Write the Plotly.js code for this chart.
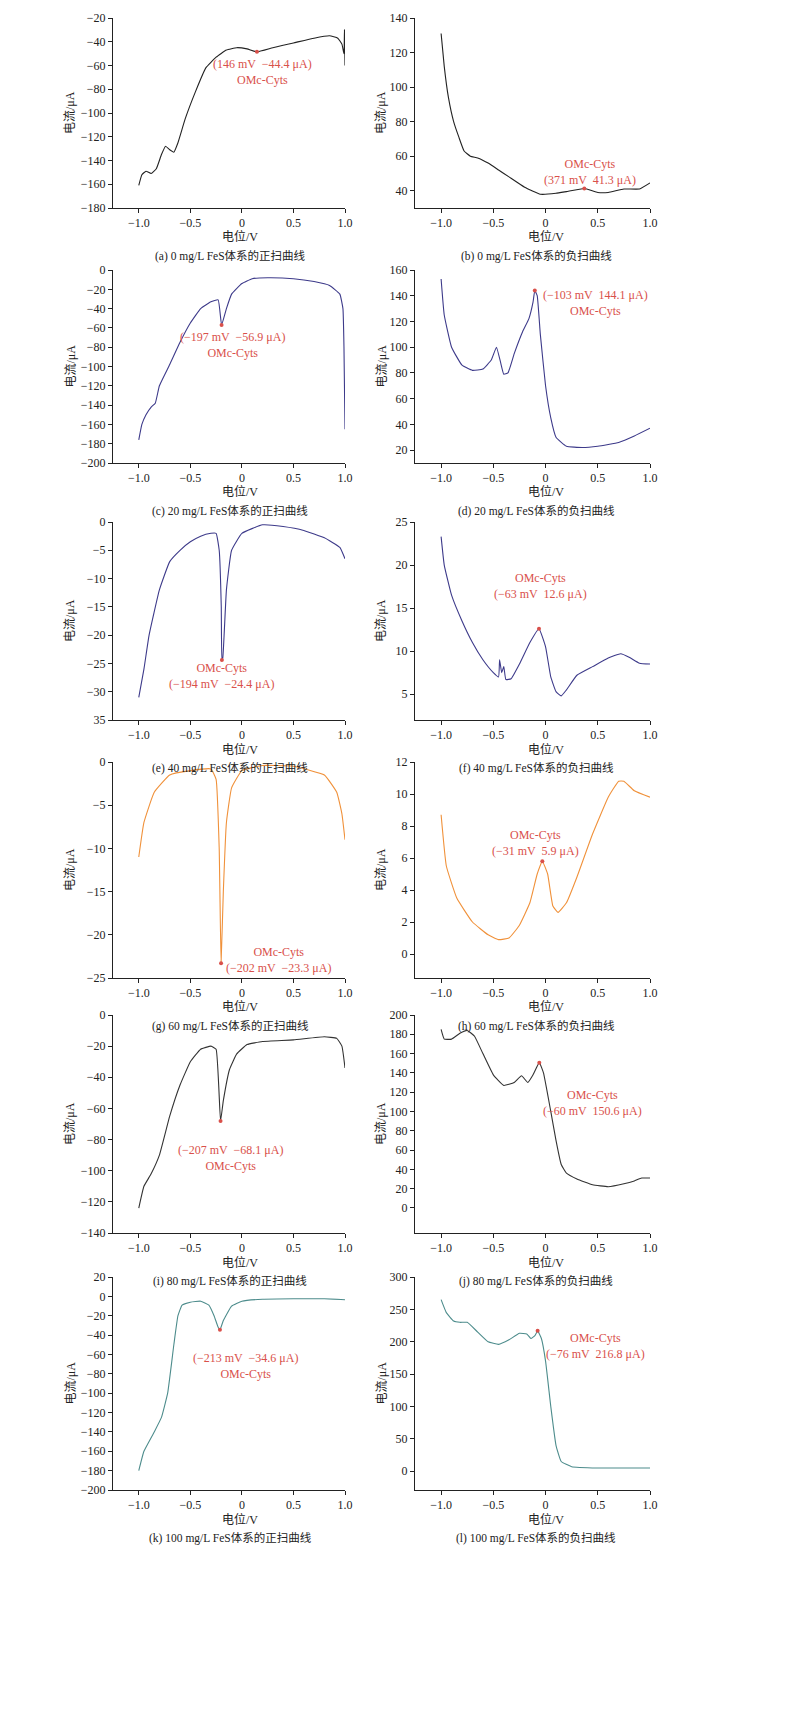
<!DOCTYPE html>
<html><head><meta charset="utf-8">
<script src="https://cdn.plot.ly/plotly-3.0.1.min.js"></script>
<style>body{margin:0;background:#fff}</style>
</head><body>
<div id="chart" style="width:792px;height:1735px"></div>
<script>
"use strict";

// potentials (V) and currents (uA)
var xA = [-1,-0.97,-0.93,-0.88,-0.83,-0.78,-0.74,-0.7,-0.66,-0.62,-0.55,-0.45,-0.35,-0.25,-0.15,-0.05,0.05,0.146,0.3,0.5,0.7,0.85,0.93,0.97,0.99,0.995,1.0];
var yA = [-161,-152,-149,-151,-147,-135,-128,-131,-133,-125,-105,-82,-62,-53,-47,-45,-46,-48.5,-45,-41,-37,-35,-37,-42,-50,-30,-60];
var xB = [-1,-0.97,-0.93,-0.88,-0.83,-0.78,-0.72,-0.65,-0.55,-0.45,-0.35,-0.2,-0.05,0.1,0.2,0.371,0.5,0.6,0.75,0.9,1.0];
var yB = [131,112,94,80,71,63,60,59,56,52,48,42,38,38.5,39.5,41.3,39,39,41,41,44.5];
var xC = [-1,-0.97,-0.93,-0.88,-0.84,-0.8,-0.7,-0.6,-0.5,-0.4,-0.3,-0.23,-0.197,-0.15,-0.1,0,0.1,0.25,0.5,0.7,0.85,0.95,0.98,0.99,1.0];
var yC = [-176,-160,-150,-142,-138,-120,-98,-75,-55,-40,-33,-31,-56.9,-40,-25,-14,-9,-8,-9,-12,-16,-25,-40,-80,-165];
var xD = [-1,-0.97,-0.9,-0.8,-0.7,-0.6,-0.52,-0.47,-0.43,-0.4,-0.36,-0.3,-0.22,-0.16,-0.12,-0.103,-0.08,-0.05,0,0.05,0.1,0.2,0.35,0.5,0.7,0.85,1.0];
var yD = [153,125,100,86,82,83,90,100,88,79,80,95,112,122,135,144.1,140,110,70,45,30,23,22,23,26,31,37];
var xE = [-1,-0.95,-0.9,-0.8,-0.7,-0.6,-0.5,-0.4,-0.3,-0.25,-0.22,-0.2,-0.194,-0.185,-0.15,-0.1,0,0.2,0.4,0.6,0.8,0.95,1.0];
var yE = [-31,-26,-20,-12,-7,-5,-3.5,-2.5,-2,-2,-5,-15,-24.4,-24,-12,-5,-2,-0.5,-0.8,-1.5,-2.8,-4.5,-6.5];
var xF = [-1,-0.97,-0.9,-0.8,-0.7,-0.6,-0.5,-0.45,-0.44,-0.42,-0.4,-0.38,-0.33,-0.25,-0.15,-0.063,0,0.05,0.1,0.15,0.2,0.3,0.45,0.6,0.72,0.8,0.9,1.0];
var yF = [23.3,20,16.5,13.5,11,9,7.5,7,9,7.5,8.2,6.7,6.8,8.5,11,12.6,10.5,7,5.3,4.8,5.5,7.2,8.2,9.2,9.7,9.3,8.6,8.5];
var xG = [-1,-0.95,-0.85,-0.7,-0.5,-0.3,-0.25,-0.22,-0.202,-0.18,-0.15,-0.1,0,0.2,0.5,0.8,0.92,0.97,1.0];
var yG = [-11,-7,-3.5,-1.5,-1,-0.8,-2,-10,-23.3,-15,-7,-3,-1,-0.4,-0.5,-1.5,-3.5,-6,-9];
var xH = [-1,-0.95,-0.85,-0.7,-0.55,-0.45,-0.35,-0.25,-0.15,-0.08,-0.031,0.02,0.07,0.12,0.2,0.3,0.45,0.6,0.7,0.75,0.85,1.0];
var yH = [8.7,5.5,3.5,2,1.2,0.9,1,1.8,3.2,5,5.8,5,3,2.6,3.2,4.8,7.5,9.8,10.8,10.8,10.2,9.8];
var xI = [-1,-0.95,-0.88,-0.8,-0.7,-0.6,-0.5,-0.4,-0.3,-0.25,-0.207,-0.18,-0.12,-0.05,0.05,0.2,0.5,0.8,0.92,0.97,1.0];
var yI = [-124,-110,-102,-90,-65,-45,-30,-22,-20,-22,-68.1,-55,-35,-25,-19,-17,-16,-14,-15,-20,-34];
var xJ = [-1,-0.97,-0.9,-0.82,-0.75,-0.68,-0.6,-0.5,-0.4,-0.3,-0.23,-0.17,-0.12,-0.06,-0.02,0.05,0.1,0.15,0.2,0.3,0.45,0.6,0.75,0.85,0.92,1.0];
var yJ = [185,175,175,181,184,178,160,138,127,130,137,130,138,150.6,140,100,70,45,36,30,24,22,25,28,31,31];
var xK = [-1,-0.95,-0.85,-0.78,-0.72,-0.66,-0.62,-0.58,-0.5,-0.4,-0.32,-0.27,-0.23,-0.213,-0.18,-0.1,0,0.2,0.5,0.8,1.0];
var yK = [-180,-160,-140,-125,-100,-50,-20,-9,-6,-5,-9,-20,-32,-34.6,-25,-10,-5,-3,-2.5,-2.5,-3.5];
var xL = [-1,-0.95,-0.88,-0.82,-0.75,-0.65,-0.55,-0.45,-0.35,-0.25,-0.18,-0.14,-0.1,-0.076,-0.04,0,0.05,0.1,0.15,0.25,0.5,0.8,1.0];
var yL = [265,245,232,230,230,215,200,196,203,213,212,205,210,216.8,205,170,100,40,15,7,5,5,5];

var peakX = [0.146,0.371,-0.197,-0.103,-0.194,-0.063,-0.202,-0.031,-0.207,-0.06,-0.213,-0.076];
var peakY = [-48.5,41.3,-56.9,144.1,-24.4,12.6,-23.3,5.8,-68.1,150.6,-34.6,216.8];
var peakLabels = [
    "(146 mV  −44.4 μA)<br>OMc-Cyts", "OMc-Cyts<br>(371 mV  41.3 μA)",
    "(−197 mV  −56.9 μA)<br>OMc-Cyts", "(−103 mV  144.1 μA)<br>OMc-Cyts",
    "OMc-Cyts<br>(−194 mV  −24.4 μA)", "OMc-Cyts<br>(−63 mV  12.6 μA)",
    "OMc-Cyts<br>(−202 mV  −23.3 μA)", "OMc-Cyts<br>(−31 mV  5.9 μA)",
    "(−207 mV  −68.1 μA)<br>OMc-Cyts", "OMc-Cyts<br>(−60 mV  150.6 μA)",
    "(−213 mV  −34.6 μA)<br>OMc-Cyts", "OMc-Cyts<br>(−76 mV  216.8 μA)"];
var captions = [
    "(a) 0 mg/L FeS体系的正扫曲线", "(b) 0 mg/L FeS体系的负扫曲线",
    "(c) 20 mg/L FeS体系的正扫曲线", "(d) 20 mg/L FeS体系的负扫曲线",
    "(e) 40 mg/L FeS体系的正扫曲线", "(f) 40 mg/L FeS体系的负扫曲线",
    "(g) 60 mg/L FeS体系的正扫曲线", "(h) 60 mg/L FeS体系的负扫曲线",
    "(i) 80 mg/L FeS体系的正扫曲线", "(j) 80 mg/L FeS体系的负扫曲线",
    "(k) 100 mg/L FeS体系的正扫曲线", "(l) 100 mg/L FeS体系的负扫曲线"];

var xs = [xA,xB,xC,xD,xE,xF,xG,xH,xI,xJ,xK,xL];
var ys = [yA,yB,yC,yD,yE,yF,yG,yH,yI,yJ,yK,yL];
var colors = ["#222","#222","#3d3a8a","#3d3a8a","#3d3a8a","#3d3a8a","#f0913a","#f0913a","#333","#333","#4d8c8c","#4d8c8c"];

// y ranges and tick steps, row tops/bottoms in px
var yRanges = [[-180,-20],[30,140],[-200,0],[10,160],[-35,0],[2,25],[-25,0],[-1.5,12],[-140,0],[-26,200],[-200,20],[-29,300]];
var yTick0 = [-180,40,-200,20,-35,5,-25,0,-140,0,-200,0];
var yDtick = [20,20,20,20,5,5,5,2,20,20,20,50];
var rowTop = [18,270,522,762,1015,1277];
var rowBottom = [208,463,720,978,1233,1490];
// peak label centres (px)
var labelPos = [[262,72],[590,172],[232,345],[595,303],[222,676],[540,586],[278,960],[535,843],[230,1158],[592,1103],[245,1366],[595,1346]];

var W = 792, H = 1735;
var FONT = "Liberation Serif, Noto Sans CJK SC, serif";
var RED = "#d9504a";
function px(v) { return v / W; }
function py(v) { return 1 - v / H; }
function note(x, y, text, font, angle) {
    return {xref: "paper", yref: "paper", x: px(x), y: py(y), xanchor: "center", yanchor: "middle",
        text: text, showarrow: false, font: font, textangle: angle || 0};
}

var data = [], annotations = [], layout = {
    width: W, height: H, showlegend: false,
    margin: {l: 0, r: 0, t: 0, b: 0},
    paper_bgcolor: "#fff", plot_bgcolor: "#fff",
    font: {family: FONT, size: 12, color: "#222"}
};

for (var i = 0; i < 12; i++) {
    var col = i % 2, row = Math.floor(i / 2);
    var n = i === 0 ? "" : String(i + 1);
    var x0 = col === 0 ? 113 : 415, x1 = col === 0 ? 345 : 650;
    data.push({x: xs[i], y: ys[i], xaxis: "x" + n, yaxis: "y" + n, type: "scatter", mode: "lines",
        line: {color: colors[i], width: 1.1, shape: "spline", smoothing: 0.35}, hoverinfo: "none"});
    data.push({x: [peakX[i]], y: [peakY[i]], xaxis: "x" + n, yaxis: "y" + n, type: "scatter", mode: "markers",
        marker: {color: RED, size: 4}, hoverinfo: "none"});

    var yticks = [], ytext = [];
    for (var v = yTick0[i]; v <= yRanges[i][1] + 1e-9; v += yDtick[i]) {
        yticks.push(v);
        ytext.push(i === 4 && v === -35 ? "35" : String(Math.round(v * 10) / 10).replace("-", "−"));
    }
    layout["xaxis" + n] = {domain: [px(x0), px(x1)], range: [-1.25, 1.0], anchor: "y" + n,
        showline: true, linecolor: "#222", linewidth: 1, ticks: "outside", ticklen: 4, tickcolor: "#222",
        showgrid: false, zeroline: false, tickvals: [-1, -0.5, 0, 0.5, 1],
        ticktext: ["−1.0", "−0.5", "0", "0.5", "1.0"], tickfont: {size: 12}};
    layout["yaxis" + n] = {domain: [py(rowBottom[row]), py(rowTop[row])], range: yRanges[i], anchor: "x" + n,
        showline: true, linecolor: "#222", linewidth: 1, ticks: "outside", ticklen: 4, tickcolor: "#222",
        showgrid: false, zeroline: false, tickvals: yticks, ticktext: ytext, tickfont: {size: 12}};

    var mid = (rowTop[row] + rowBottom[row]) / 2;
    annotations.push(note(col === 0 ? 70 : 381, mid, "电流/μA", {size: 12}, -90));
    annotations.push(note(col === 0 ? 240 : 546, rowBottom[row] + 29, "电位/V", {size: 12}));
    annotations.push(note(col === 0 ? 230 : 536, rowBottom[row] + 48, captions[i], {size: 11.5}));
    annotations.push(note(labelPos[i][0], labelPos[i][1], peakLabels[i], {size: 12, color: RED}));
}
layout.annotations = annotations;

Plotly.newPlot("chart", data, layout, {staticPlot: true});
</script>
</body></html>
